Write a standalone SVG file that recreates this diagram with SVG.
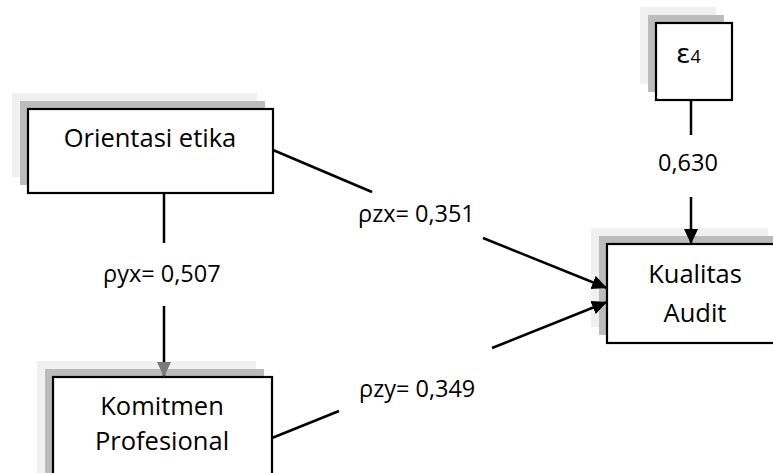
<svg xmlns="http://www.w3.org/2000/svg" width="773" height="473" viewBox="0 0 773 473">
<defs>
<style>
.s1{fill:#f0f0f0}
.s2{fill:#bcbcbc}
.box{fill:#fff;stroke:#000;stroke-width:2.2}
.t{font-family:"Open Sans","Noto Sans",sans-serif;font-size:25.5px;fill:#000;text-anchor:middle}
.lbl{font-family:"Open Sans","Noto Sans",sans-serif;font-size:23.5px;fill:#000}
.ln{stroke:#000;stroke-width:2.5;fill:none}
</style>
<marker id="ah" markerUnits="userSpaceOnUse" markerWidth="16" markerHeight="16" refX="15" refY="7" orient="auto">
<path d="M0,0 L15,7 L0,14 z" fill="#000"/>
</marker>
<marker id="ahg" markerUnits="userSpaceOnUse" markerWidth="16" markerHeight="16" refX="15" refY="7" orient="auto">
<path d="M0,0 L15,7 L0,14 z" fill="#7a7a7a"/>
</marker>
</defs>
<rect width="773" height="473" fill="#fff"/>
<g id="orientasi">
<rect class="s1" x="12" y="93" width="245" height="84"/>
<rect class="s2" x="20" y="101" width="245" height="84"/>
<rect class="box" x="28" y="109" width="245" height="84"/>
<text class="t" x="150" y="147">Orientasi etika</text>
</g>
<g id="komitmen">
<rect class="s1" x="37" y="361" width="219" height="130"/>
<rect class="s2" x="45" y="369" width="219" height="130"/>
<rect class="box" x="53" y="377" width="219" height="130"/>
<text class="t" x="162" y="415">Komitmen</text>
<text class="t" x="162" y="450">Profesional</text>
</g>
<g id="epsilon">
<rect class="s1" x="640" y="7" width="76" height="77"/>
<rect class="s2" x="648" y="15" width="76" height="77"/>
<rect class="box" x="656" y="23" width="76" height="77"/>
<text x="676" y="63" font-family="DejaVu Sans,sans-serif" font-size="27" fill="#000">ε<tspan font-family="Open Sans,sans-serif" font-size="18">4</tspan></text>
</g>
<g id="kualitas">
<rect class="s1" x="591" y="228" width="177" height="99"/>
<rect class="s2" x="599" y="236" width="177" height="99"/>
<rect class="box" x="607" y="244" width="177" height="99"/>
<text class="t" x="695" y="283">Kualitas</text>
<text class="t" x="695" y="322">Audit</text>
</g>
<g id="connectors">
<line class="ln" x1="164" y1="193" x2="164" y2="243"/>
<line class="ln" x1="164" y1="306" x2="164" y2="377" marker-end="url(#ahg)"/>
<line class="ln" x1="691" y1="100" x2="691" y2="135"/>
<line class="ln" x1="691" y1="197" x2="691" y2="244" marker-end="url(#ah)"/>
<line class="ln" x1="273" y1="150" x2="372" y2="192"/>
<line class="ln" x1="483" y1="238" x2="607" y2="288" marker-end="url(#ah)"/>
<line class="ln" x1="272" y1="438" x2="339" y2="411"/>
<line class="ln" x1="492" y1="348" x2="607" y2="302" marker-end="url(#ah)"/>
<text class="lbl" x="103" y="282">ρyx= 0,507</text>
<text class="lbl" x="358" y="222">ρzx= 0,351</text>
<text class="lbl" x="359" y="397">ρzy= 0,349</text>
<text class="lbl" x="658" y="171">0,630</text>
</g>
</svg>
